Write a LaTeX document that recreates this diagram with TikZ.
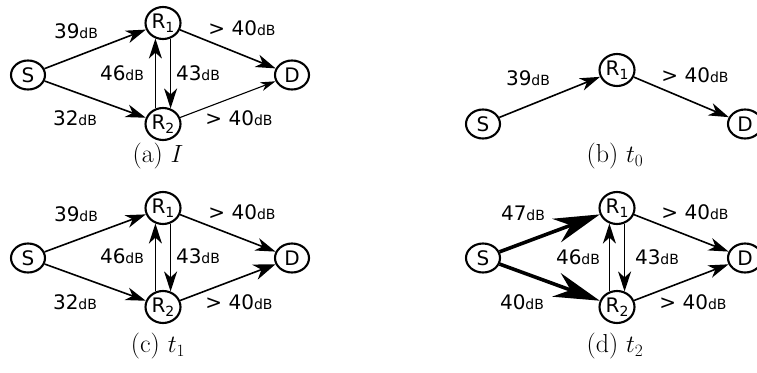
\documentclass[tikz,border=0pt]{standalone}
\usepackage{fontspec}
\newfontfamily\dv{DejaVu Sans}
\usetikzlibrary{shapes.geometric,arrows.meta}
\newcommand{\lab}{\dv\fontsize{20}{20}\selectfont}
\newcommand{\dBu}{{\fontsize{14}{14}\selectfont dB}}
\newcommand{\sbs}[1]{\raisebox{-0.35ex}{\fontsize{14}{14}\selectfont #1}}
\newcommand{\capf}{\fontsize{26}{26}\selectfont}
\tikzset{
  nd/.style={draw, line width=2.1pt, ellipse, inner sep=0pt, minimum width=34pt, minimum height=29pt, font=\lab},
  rn/.style={nd, minimum width=35pt, minimum height=32pt},
  ed/.style={line width=1.6pt, -{Stealth[length=20pt,width=13pt,inset=6pt]}},
  edthin/.style={line width=1.1pt, -{Stealth[length=15pt,width=9pt,inset=4.5pt]}},
  edbig/.style={line width=1.6pt, -{Stealth[length=22pt,width=16pt,inset=7pt]}},
  edthick/.style={line width=3.6pt, -{Stealth[length=46pt,width=25pt,inset=15pt]}},
  lbl/.style={font=\lab, inner sep=0pt},
  capt/.style={font=\capf, inner sep=0pt}
}
\begin{document}
\begin{tikzpicture}[x=1pt,y=-1pt]
\useasboundingbox (0,0) rectangle (757,372);
% ---- (a)
\node[nd] (aS) at (28,75) {S};
\node[rn] (aR1) at (163,23) {R\sbs{1}};
\node[rn] (aR2) at (163,124) {R\sbs{2}};
\node[nd] (aD) at (292,75) {D};
\draw[ed] (aS) -- (aR1);
\draw[ed] (aS) -- (aR2);
\draw[ed] (aR2.116) -- (aR1.244);
\draw[ed] (aR1.296) -- (aR2.64);
\draw[ed] (aR1) -- (aD);
\draw[edthin] (aR2) -- (aD);
\node[lbl] (al1) at (76,31) {39\dBu};
\node[lbl] (al2) at (75,118) {32\dBu};
\node[lbl] (al3) at (122,73) {46\dBu};
\node[lbl] (al4) at (198,73) {43\dBu};
\node[lbl] (al5) at (242,28) {> 40\dBu};
\node[lbl] (al6) at (239,118) {> 40\dBu};
\node[capt] (ac) at (158,156) {(a) $I$};
% ---- (b)
\node[nd] (bS) at (483,124) {S};
\node[rn] (bR1) at (617,70) {R\sbs{1}};
\node[nd] (bD) at (745,124) {D};
\draw[ed] (bS) -- (bR1);
\draw[ed] (bR1) -- (bD);
\node[lbl] (bl1) at (528,78) {39\dBu};
\node[lbl] (bl2) at (695,75) {> 40\dBu};
\node[capt] (bc) at (615,156) {(b) $t_0$};
% ---- (c)
\node[nd] (cS) at (28,258) {S};
\node[rn] (cR1) at (163,208) {R\sbs{1}};
\node[rn] (cR2) at (163,307) {R\sbs{2}};
\node[nd] (cD) at (292,258) {D};
\draw[ed] (cS) -- (cR1);
\draw[ed] (cS) -- (cR2);
\draw[ed] (cR2.116) -- (cR1.244);
\draw[ed] (cR1.296) -- (cR2.64);
\draw[ed] (cR1) -- (cD);
\draw[edbig] (cR2) -- (cD);
\node[lbl] (cl1) at (76,214) {39\dBu};
\node[lbl] (cl2) at (75,302) {32\dBu};
\node[lbl] (cl3) at (122,256) {46\dBu};
\node[lbl] (cl4) at (198,256) {43\dBu};
\node[lbl] (cl5) at (242,212) {> 40\dBu};
\node[lbl] (cl6) at (239,302) {> 40\dBu};
\node[capt] (cc) at (158,346) {(c) $t_1$};
% ---- (d)
\node[nd] (dS) at (483,258) {S};
\node[rn] (dR1) at (617,208) {R\sbs{1}};
\node[rn] (dR2) at (617,307) {R\sbs{2}};
\node[nd] (dD) at (745,258) {D};
\draw[edthick] (dS) -- (dR1);
\draw[edthick] (dS) -- (dR2);
\draw[ed] (dR2.116) -- (dR1.244);
\draw[ed] (dR1.296) -- (dR2.64);
\draw[ed] (dR1) -- (dD);
\draw[ed] (dR2) -- (dD);
\node[lbl] (dl1) at (523,213) {47\dBu};
\node[lbl] (dl2) at (522,302) {40\dBu};
\node[lbl] (dl3) at (578,257) {46\dBu};
\node[lbl] (dl4) at (657,257) {43\dBu};
\node[lbl] (dl5) at (695,212) {> 40\dBu};
\node[lbl] (dl6) at (693,302) {> 40\dBu};
\node[capt] (dc) at (615,346) {(d) $t_2$};
\end{tikzpicture}
\end{document}
